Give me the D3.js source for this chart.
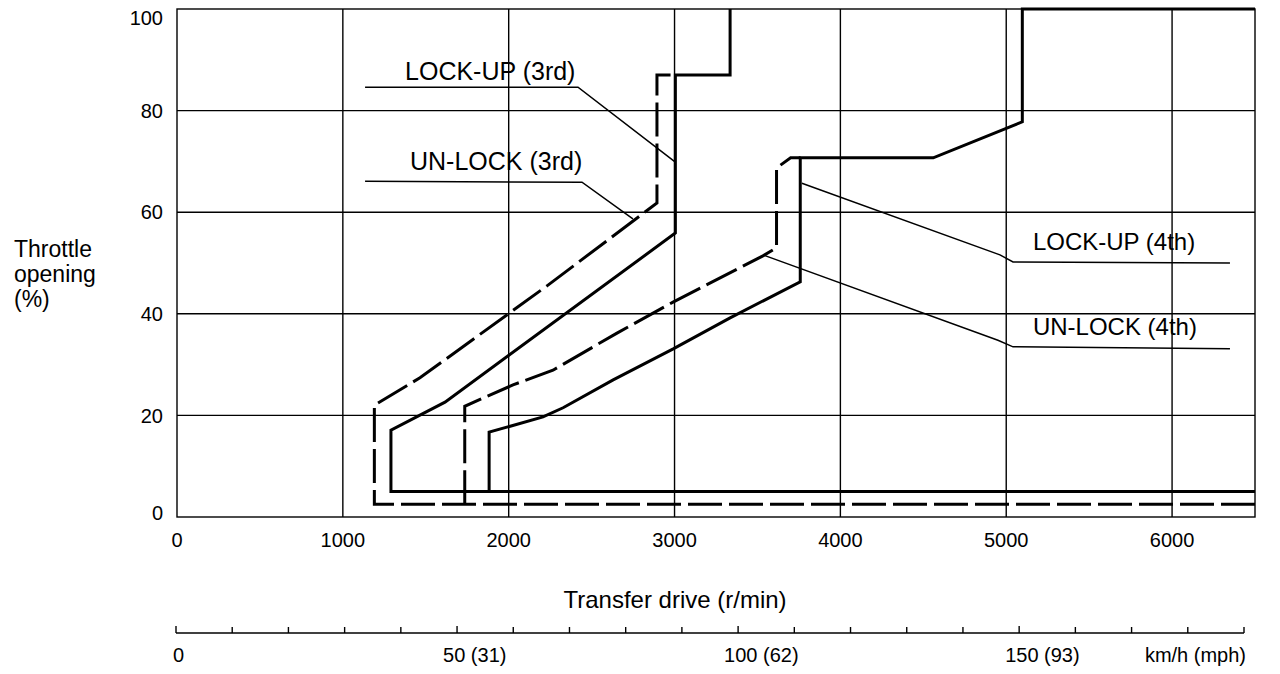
<!DOCTYPE html>
<html><head><meta charset="utf-8">
<script src="https://cdn.jsdelivr.net/npm/d3@7/dist/d3.min.js"></script>
<style>
html,body{margin:0;padding:0;background:#fff;}
svg{display:block;font-family:"Liberation Sans",Arial,Helvetica,sans-serif;}
</style></head><body>
<svg id="chart" width="1280" height="674"></svg>
<script>
// ---- data ----
const rpmTicks = [0, 1000, 2000, 3000, 4000, 5000, 6000];
const rpmGrid = [1000, 2000, 3000, 4000, 5000, 6000];
const throttleTicks = [0, 20, 40, 60, 80, 100];
const throttleGrid = [20, 40, 60, 80];
const speedTicks = [0,10,20,30,40,50,60,70,80,90,100,110,120,130,140,150,160,170,180,190];
const speedLabelValues = [0, 50, 100, 150];
const speedLabelTexts = ["0", "50 (31)", "100 (62)", "150 (93)"];

// shift lines: [r/min, throttle %]
const unlock3rd = [[6500,2.5],[1190,2.5],[1190,22.0],[1465,27.4],[2231,45.5],[2894,61.8],[2894,87.0],[3010,87.0]];
const lockup3rd = [[6500,5.0],[1290,5.0],[1290,17.1],[1616,22.6],[3005,55.9],[3005,87.0],[3335,87.0],[3335,100]];
const unlock4th = [[1735,2.5],[1735,21.8],[2026,26.0],[2267,28.9],[2653,36.2],[2991,42.3],[3533,51.4],[3615,53.0],[3615,68.7],[3700,70.7],[3760,70.7]];
const lockup4th = [[1882,5.0],[1882,16.7],[2207,19.7],[2328,21.5],[2630,27.0],[2992,33.1],[3335,39.2],[3758,46.3],[3758,70.7],[4560,70.7],[5097,77.8],[5097,100],[6500,100]];

// annotation labels and leader lines
const labelNames = ["LOCK-UP (3rd)", "UN-LOCK (3rd)", "LOCK-UP (4th)", "UN-LOCK (4th)"];
const labelSizes = [25, 25, 24, 24];
const labelAnchors = [[1375,86.0],[1405,68.3],[5161,52.6],[5161,35.8]];
const leaders = [
  [[1134,84.6],[2418,84.6],[3003,69.9]],
  [[1134,66.1],[2442,65.9],[2749,58.7]],
  [[3768,65.7],[4962,51.6],[5041,50.2],[6349,50.0]],
  [[3533,51.6],[4950,34.8],[5041,33.5],[6349,33.1]]
];

// ---- drawing ----
const svg = d3.select("#chart");
const x = d3.scaleLinear().domain([0, 6500]).range([177, 1255]);
const y = d3.scaleLinear().domain([0, 100]).range([517, 9]);
const sx = d3.scaleLinear().domain([0, 190]).range([176, 1244]);
const line = d3.line().x(d => x(d[0])).y(d => y(d[1]));

// grid
svg.append("g").selectAll("line").data(rpmGrid).join("line")
  .attr("x1", d => x(d)).attr("x2", d => x(d)).attr("y1", y(100)).attr("y2", y(0))
  .attr("stroke", "#000").attr("stroke-width", 1.4);
svg.append("g").selectAll("line").data(throttleGrid).join("line")
  .attr("x1", x(0)).attr("x2", x(6500)).attr("y1", d => y(d)).attr("y2", d => y(d))
  .attr("stroke", "#000").attr("stroke-width", 1.4);
svg.append("rect").attr("x", x(0)).attr("y", y(100)).attr("width", x(6500) - x(0)).attr("height", y(0) - y(100))
  .attr("fill", "none").attr("stroke", "#000").attr("stroke-width", 1.4);

// y tick labels
svg.append("g").selectAll("text").data(throttleTicks).join("text")
  .attr("x", 163).attr("y", d => Math.min(Math.max(y(d), 18), 513))
  .attr("dy", "0.36em").attr("text-anchor", "end").attr("font-size", 20).text(d => d);

// x tick labels
svg.append("g").selectAll("text").data(rpmTicks).join("text")
  .attr("x", d => x(d)).attr("y", 540).attr("dy", "0.36em")
  .attr("text-anchor", "middle").attr("font-size", 20).text(d => d);

// axis titles
const yt = svg.append("text").attr("x", 14).attr("font-size", 23);
["Throttle", "opening", "(%)"].forEach((t, i) => yt.append("tspan").attr("x", 14).attr("y", 257 + i * 25).text(t));
svg.append("text").attr("x", 675).attr("y", 608).attr("text-anchor", "middle").attr("font-size", 24).text("Transfer drive (r/min)");

// speed axis
const sax = svg.append("g");
sax.append("line").attr("x1", sx(0)).attr("x2", sx(190)).attr("y1", 633).attr("y2", 633).attr("stroke", "#000").attr("stroke-width", 1.4);
sax.selectAll("line.t").data(speedTicks).join("line").attr("class", "t")
  .attr("x1", d => sx(d)).attr("x2", d => sx(d)).attr("y1", 633).attr("y2", d => d % 50 === 0 ? 626 : 627)
  .attr("stroke", "#000").attr("stroke-width", 1.4);
sax.selectAll("text").data(speedLabelValues).join("text")
  .attr("x", (d, i) => i === 0 ? sx(d) - 3 : sx(d) - 14).attr("y", 662).attr("font-size", 20)
  .text((d, i) => speedLabelTexts[i]);
svg.append("text").attr("x", 1246).attr("y", 662).attr("text-anchor", "end").attr("font-size", 20).text("km/h (mph)");

// leader lines
svg.append("g").selectAll("path").data(leaders).join("path")
  .attr("d", line).attr("fill", "none").attr("stroke", "#000").attr("stroke-width", 1.5);

// annotation labels
svg.append("g").selectAll("text").data(labelNames).join("text")
  .attr("x", (d, i) => x(labelAnchors[i][0])).attr("y", (d, i) => y(labelAnchors[i][1]))
  .attr("font-size", (d, i) => labelSizes[i]).text(d => d);

// shift curves
const curves = [
  {pts: unlock3rd, dash: "34,7"},
  {pts: unlock4th, dash: "34,7"},
  {pts: lockup3rd, dash: null},
  {pts: lockup4th, dash: null}
];
svg.append("g").selectAll("path").data(curves).join("path")
  .attr("d", d => line(d.pts)).attr("fill", "none").attr("stroke", "#000")
  .attr("stroke-width", 3).attr("stroke-linejoin", "miter")
  .attr("stroke-dasharray", d => d.dash);
</script>
</body></html>
